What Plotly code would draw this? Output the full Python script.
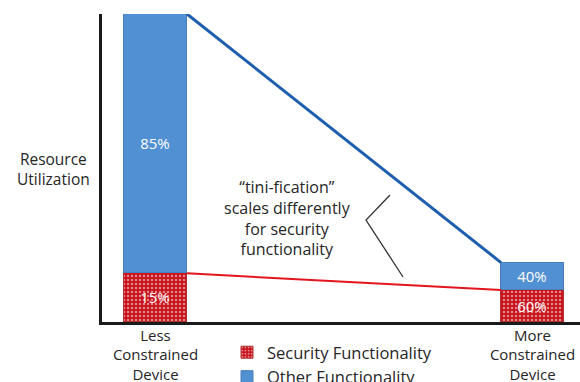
import plotly.graph_objects as go

W, H = 580, 382

categories = ["Less<br>Constrained<br>Device", "More<br>Constrained<br>Device"]
xpos = [0, 1]
security_vals = [15.8, 10.4]
other_vals = [84.2, 8.9]
security_labels = ["15%", "60%"]
other_labels = ["85%", "40%"]
bar_width = 0.167

FONT = "Open Sans"
TXT = "#262626"

fig = go.Figure()

fig.add_trace(go.Bar(
    x=xpos, y=security_vals, width=bar_width, name="Security Functionality",
    text=security_labels, textposition="inside", insidetextanchor="middle",
    textangle=0, constraintext="none",
    textfont=dict(color="white", size=15, family=FONT),
    marker=dict(color="#c8111b", line=dict(color="#b03030", width=1),
                pattern=dict(shape=".", fgcolor="white", bgcolor="#c8111b",
                             size=4, solidity=0.3)),
))
fig.add_trace(go.Bar(
    x=xpos, y=other_vals, width=bar_width, name="Other Functionality",
    text=other_labels, textposition="inside", insidetextanchor="middle",
    textangle=0, constraintext="none",
    textfont=dict(color="white", size=15, family=FONT),
    marker=dict(color="#5190d2", line=dict(color="#4a7fb8", width=1)),
))

totals = [s + o for s, o in zip(security_vals, other_vals)]
lx = [xpos[0] + bar_width / 2, xpos[1] - bar_width / 2]
fig.add_trace(go.Scatter(x=lx, y=totals, mode="lines", showlegend=False,
                         line=dict(color="#1d5fae", width=3), hoverinfo="skip"))
fig.add_trace(go.Scatter(x=lx, y=security_vals, mode="lines", showlegend=False,
                         line=dict(color="#e3161d", width=2), hoverinfo="skip"))

def px(x):
    return x / W

def py(y):
    return 1 - y / H

# callout pointer line
fig.add_shape(type="path", xref="paper", yref="paper",
              path=f"M {px(390)} {py(195)} L {px(366)} {py(220)} L {px(403)} {py(277)}",
              line=dict(color="#333333", width=1.3))

fig.add_annotation(xref="paper", yref="paper", x=px(287), y=py(218),
                   xanchor="center", yanchor="middle",
                   text="“tini-fication”<br>scales differently<br>for security<br>functionality",
                   showarrow=False, align="center",
                   font=dict(family=FONT, size=16, color=TXT))
fig.add_annotation(xref="paper", yref="paper", x=px(53), y=py(169),
                   xanchor="center", yanchor="middle",
                   text="Resource<br>Utilization", showarrow=False, align="center",
                   font=dict(family=FONT, size=15.5, color=TXT))

fig.update_layout(
    width=W, height=H, margin=dict(l=0, r=0, t=0, b=0, autoexpand=False),
    paper_bgcolor="white", plot_bgcolor="white",
    barmode="stack", bargap=0,
    font=dict(family=FONT, size=16, color=TXT),
    xaxis=dict(domain=[102 / W, 1], range=[-0.1419, 1.126], tickvals=xpos,
               ticktext=categories, showline=True, linecolor="#1a1a1a", linewidth=2.5,
               showgrid=False, zeroline=False, ticks="", fixedrange=True,
               ticklabelstandoff=-2,
               tickfont=dict(family=FONT, size=15, color=TXT)),
    yaxis=dict(domain=[1 - 322 / H, 1 - 14 / H], range=[0, 100], showline=True,
               linecolor="#1a1a1a", linewidth=2.5, showgrid=False, zeroline=False,
               showticklabels=False, ticks=""),
    legend=dict(x=227 / W, y=1 - 335 / H,
                xanchor="left", yanchor="top", traceorder="normal",
                font=dict(family=FONT, size=16.5, color=TXT), bgcolor="rgba(0,0,0,0)"),
    showlegend=True,
)

fig.write_html("out.html")
